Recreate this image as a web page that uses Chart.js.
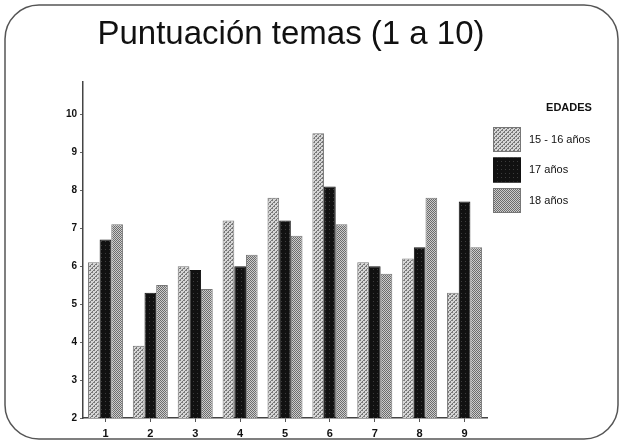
<!DOCTYPE html>
<html>
<head>
<meta charset="utf-8">
<script src="https://cdn.jsdelivr.net/npm/chart.js@4"></script>
<style>
  html, body { margin: 0; padding: 0; background: #fff; }
  #wrap { width: 623px; height: 442px; position: relative; }
</style>
</head>
<body>
<div id="wrap"><canvas id="chart" width="623" height="442"></canvas></div>
<script>
const categories = ["1", "2", "3", "4", "5", "6", "7", "8", "9"];
const seriesLabels = ["15 - 16 años", "17 años", "18 años"];
const ages1516 = [6.1, 3.9, 6.0, 7.2, 7.8, 9.5, 6.1, 6.2, 5.3];
const ages17 = [6.7, 5.3, 5.9, 6.0, 7.2, 8.1, 6.0, 6.5, 7.7];
const ages18 = [7.1, 5.5, 5.4, 6.3, 6.8, 7.1, 5.8, 7.8, 6.5];
const yTicks = [2, 3, 4, 5, 6, 7, 8, 9, 10];

const titleText = "Puntuación temas (1 a 10)";
const legendTitle = "EDADES";
const fontFamily = "'Liberation Sans', Arial, sans-serif";

const canvas = document.getElementById("chart");
const ctx = canvas.getContext("2d");

// small tiled patterns to imitate the printed grey textures
function makePattern(size, bg, fg, dots) {
  const tile = document.createElement("canvas");
  tile.width = size;
  tile.height = size;
  const g = tile.getContext("2d");
  g.fillStyle = bg;
  g.fillRect(0, 0, size, size);
  g.fillStyle = fg;
  dots.forEach(([x, y]) => g.fillRect(x, y, 1, 1));
  return ctx.createPattern(tile, "repeat");
}

const hatchLight = makePattern(4, "#d6d6d6", "#777777", [[0, 3], [1, 2], [2, 1], [3, 0], [0, 0], [2, 2]]);
const solidDark = makePattern(4, "#111111", "#3c3c3c", [[1, 1]]);
const checkerMid = makePattern(2, "#cccccc", "#6c6c6c", [[0, 0], [1, 1]]);

const fills = [hatchLight, solidDark, checkerMid];
const borders = ["#777777", "#111111", "#777777"];

const framePlugin = {
  id: "frame",
  beforeDraw(chart) {
    const c = chart.ctx;
    c.save();
    c.fillStyle = "#ffffff";
    c.fillRect(0, 0, chart.width, chart.height);
    c.strokeStyle = "#555555";
    c.lineWidth = 1.5;
    c.beginPath();
    c.roundRect(5, 5, 613, 434, 34);
    c.stroke();
    c.restore();
  },
};

const decorPlugin = {
  id: "decor",
  afterDraw(chart) {
    const c = chart.ctx;
    c.save();
    c.fillStyle = "#111111";
    c.textAlign = "center";
    c.textBaseline = "middle";
    c.font = `33px ${fontFamily}`;
    c.fillText(titleText, 291, 35);

    c.font = `bold 11px ${fontFamily}`;
    c.fillText(legendTitle, 569, 108);

    c.textAlign = "left";
    chart.data.datasets.forEach((ds, i) => {
      const top = 127 + i * 30.5;
      c.fillStyle = ds.backgroundColor;
      c.fillRect(493, top, 28, 25);
      c.strokeStyle = ds.borderColor;
      c.lineWidth = 1;
      c.strokeRect(493.5, top + 0.5, 27, 24);
      c.fillStyle = "#111111";
      c.font = `11px ${fontFamily}`;
      c.fillText(ds.label, 529, top + 12.5);
    });
    c.restore();
  },
};

const datasets = [ages1516, ages17, ages18].map((values, i) => ({
  label: seriesLabels[i],
  data: values,
  backgroundColor: fills[i],
  borderColor: borders[i],
  borderWidth: 1,
  categoryPercentage: 0.78,
  barPercentage: 1.0,
}));

new Chart(canvas, {
  type: "bar",
  plugins: [framePlugin, decorPlugin],
  data: {
    labels: categories,
    datasets,
  },
  options: {
    responsive: false,
    animation: false,
    layout: {
      padding: { top: 82, right: 136, bottom: 2, left: 10 },
    },
    plugins: {
      legend: { display: false },
      title: { display: false },
      tooltip: { enabled: false },
    },
    scales: {
      x: {
        grid: {
          display: true,
          drawOnChartArea: false,
          offset: false,
          tickLength: 4,
          color: "#555555",
        },
        border: { display: true, color: "#444444", width: 1.5, dash: [2, 1] },
        ticks: {
          color: "#111111",
          padding: 5,
          font: { family: fontFamily, size: 11, weight: "bold" },
        },
        afterFit(scale) {
          scale.height = 22;
        },
      },
      y: {
        min: 2,
        max: 10.85,
        afterBuildTicks(scale) {
          scale.ticks = yTicks.map((value) => ({ value }));
        },
        grid: {
          display: true,
          drawOnChartArea: false,
          tickLength: 3,
          color: "#666666",
        },
        border: { display: true, color: "#444444", width: 1.5, dash: [2, 1] },
        ticks: {
          color: "#111111",
          padding: 3,
          font: { family: fontFamily, size: 10, weight: "bold" },
        },
        afterFit(scale) {
          scale.width = 73;
        },
      },
    },
  },
});
</script>
</body>
</html>
